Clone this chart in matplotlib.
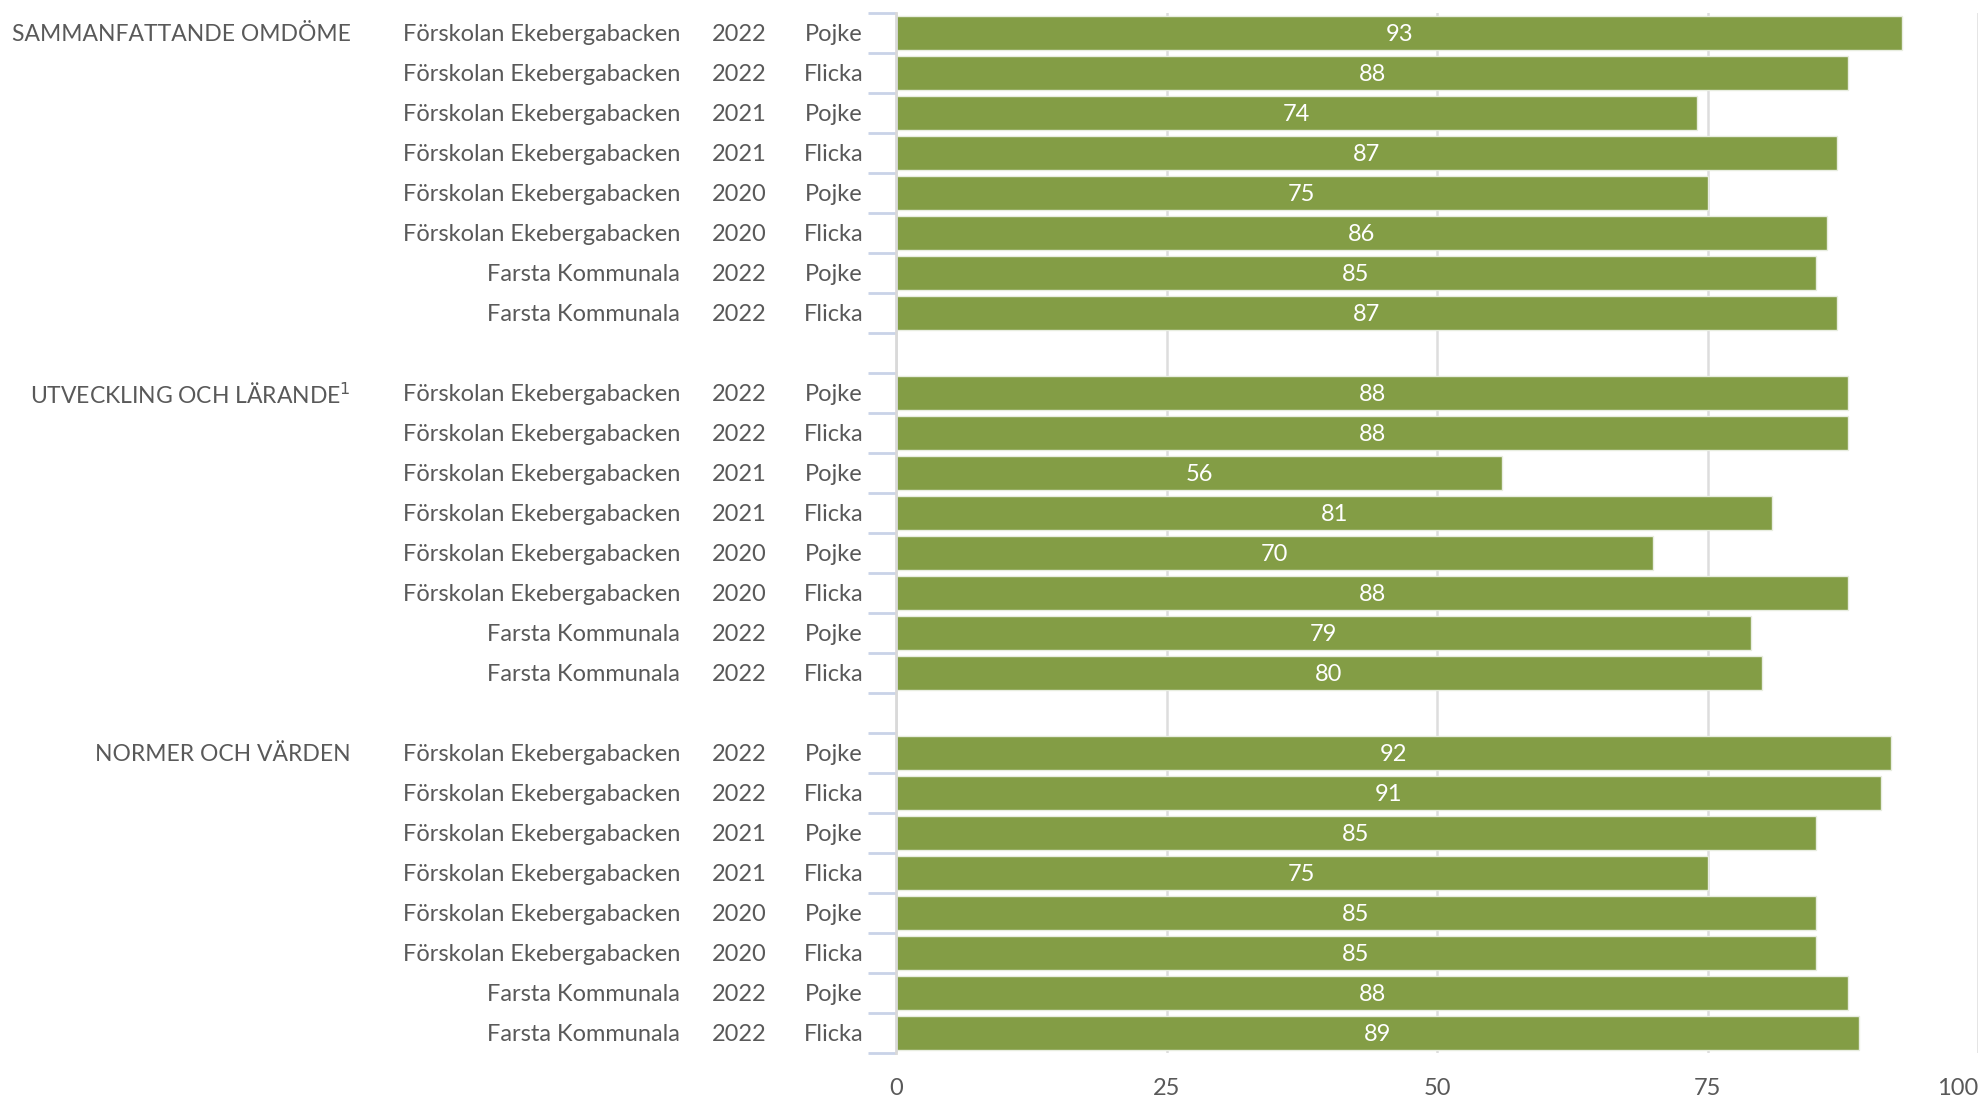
import numpy as np
import matplotlib
matplotlib.use("Agg")
import matplotlib.pyplot as plt
import matplotlib.transforms as mtransforms

plt.rcParams['font.family'] = ['Lato', 'DejaVu Sans']

groups = ['SAMMANFATTANDE OMDÖME', 'UTVECKLING OCH LÄRANDE$^{1}$', 'NORMER OCH VÄRDEN']
schools = ['Förskolan Ekebergabacken'] * 6 + ['Farsta Kommunala'] * 2
years = ['2022', '2022', '2021', '2021', '2020', '2020', '2022', '2022']
genders = ['Pojke', 'Flicka'] * 4

vals_omdome = [93, 88, 74, 87, 75, 86, 85, 87]
vals_larande = [88, 88, 56, 81, 70, 88, 79, 80]
vals_normer = [92, 91, 85, 75, 85, 85, 88, 89]
all_vals = [vals_omdome, vals_larande, vals_normer]

bar_color = '#839D45'
text_color = '#595959'
fs = 17

fig = plt.figure(figsize=(19.81, 10.98), dpi=100)
ax = fig.add_axes([896/1981, 1 - 1053/1098, (1978 - 896)/1981, (1053 - 13)/1098])

# label columns (figure x, pixels)
trans = mtransforms.blended_transform_factory(fig.transFigure, ax.transData)
x_group = 351/1981
x_school = 680/1981
x_year = 767/1981
x_gender = 863/1981
va = 'center_baseline'

pos = 0
for g, vals in zip(groups, all_vals):
    ys = np.arange(pos, pos + len(vals))
    ax.barh(ys, vals, height=0.84, color=bar_color, edgecolor='#E8EDE0', linewidth=1, zorder=2)
    for y, v, s, yr, gd in zip(ys, vals, schools, years, genders):
        ax.text(v / 2, y, str(v), color='white', ha='center', va=va, fontsize=fs, zorder=3)
        ax.text(x_school, y, s, transform=trans, ha='right', va=va, color=text_color, fontsize=fs)
        ax.text(x_year, y, yr, transform=trans, ha='right', va=va, color=text_color, fontsize=fs)
        ax.text(x_gender, y, gd, transform=trans, ha='right', va=va, color=text_color, fontsize=fs)
    ax.text(x_group, pos, g, transform=trans, ha='right', va=va, color=text_color, fontsize=16.5)
    pos += len(vals) + 1

n_slots = pos - 1
ax.set_ylim(n_slots - 0.5, -0.5)
ax.set_xlim(0, 100)

ax.set_xticks([0, 25, 50, 75, 100])
ax.tick_params(axis='x', length=0, labelsize=fs, labelcolor=text_color, pad=18)
ax.get_xticklabels()[-1].set_horizontalalignment('right')
ax.set_yticks(np.arange(-0.5, n_slots, 1.0))
ax.set_yticklabels([])
ax.tick_params(axis='y', length=20, width=2, color='#C9D3E8', direction='out')

ax.xaxis.grid(True, color='#DDDDDD', linewidth=1.8, zorder=0)
ax.set_axisbelow(True)
for sp in ['top', 'right', 'bottom']:
    ax.spines[sp].set_visible(False)
ax.spines['left'].set_color('#D9D9D9')
ax.spines['left'].set_linewidth(2)

plt.savefig('out.png', dpi=100)
